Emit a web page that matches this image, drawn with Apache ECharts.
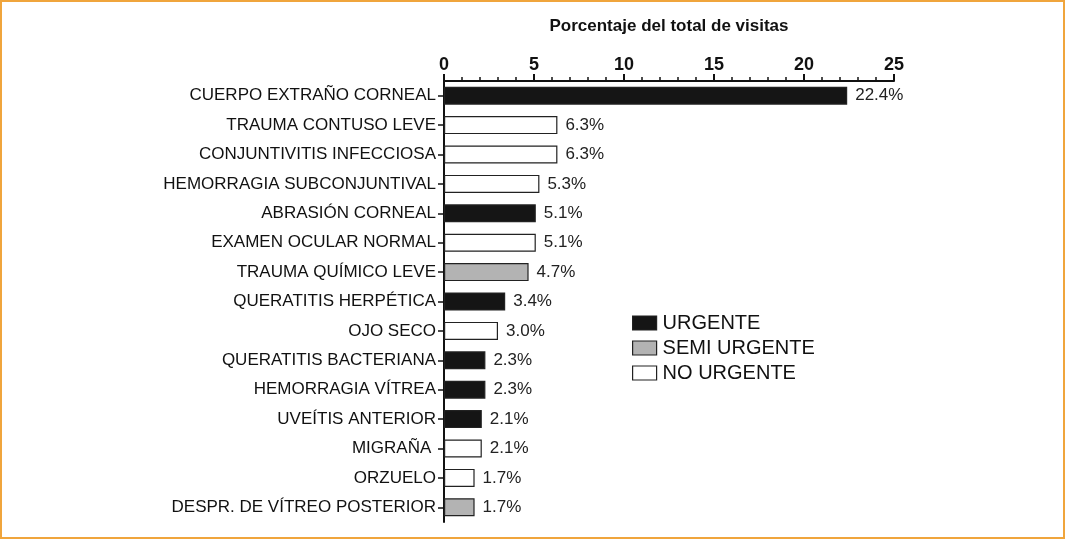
<!DOCTYPE html>
<html>
<head>
<meta charset="utf-8">
<script src="https://cdn.jsdelivr.net/npm/echarts@6/dist/echarts.min.js"></script>
<style>
html,body{margin:0;padding:0;background:#fff;}
#chart{position:absolute;left:0;top:0;width:1065px;height:539px;}
#frame{position:absolute;left:0;top:0;width:1065px;height:539px;box-sizing:border-box;border:2px solid #f0a53c;pointer-events:none;}
</style>
</head>
<body>
<div id="chart"></div>
<div id="frame"></div>
<script>
const categories = [
  'CUERPO EXTRAÑO CORNEAL','TRAUMA CONTUSO LEVE','CONJUNTIVITIS INFECCIOSA','HEMORRAGIA SUBCONJUNTIVAL',
  'ABRASIÓN CORNEAL','EXAMEN OCULAR NORMAL','TRAUMA QUÍMICO LEVE','QUERATITIS HERPÉTICA','OJO SECO',
  'QUERATITIS BACTERIANA','HEMORRAGIA VÍTREA','UVEÍTIS ANTERIOR','MIGRAÑA ','ORZUELO','DESPR. DE VÍTREO POSTERIOR'
];
const values = [22.4, 6.3, 6.3, 5.3, 5.1, 5.1, 4.7, 3.4, 3.0, 2.3, 2.3, 2.1, 2.1, 1.7, 1.7];
// U = urgente, S = semi urgente, N = no urgente
const urgency = ['U','N','N','N','U','N','S','U','N','U','U','U','N','N','S'];
const groups = [
  {key:'U', name:'URGENTE', color:'#151515'},
  {key:'S', name:'SEMI URGENTE', color:'#b3b3b3'},
  {key:'N', name:'NO URGENTE', color:'#ffffff'}
];
const xTicks = [0,5,10,15,20,25];
const title = 'Porcentaje del total de visitas';

const chart = echarts.init(document.getElementById('chart'));
const font = 'Liberation Sans, Arial, sans-serif';
const series = groups.map(g => ({
  name: g.name,
  type: 'bar',
  stack: 'all',
  barWidth: 18,
  data: values.map((v,i) => urgency[i] === g.key ? v : '-'),
  itemStyle: {color: g.color, borderColor: '#222', borderWidth: 1.2},
  label: {
    show: true, position: 'right', distance: 8,
    color: '#222', fontSize: 17, fontFamily: font,
    formatter: p => Number(p.value).toFixed(1) + '%'
  }
}));

chart.setOption({
  animation: false,
  grid: {left: 444, right: 171, top: 81, bottom: 17, containLabel: false},
  xAxis: {
    type: 'value', position: 'top', min: xTicks[0], max: xTicks[xTicks.length-1], interval: 5,
    name: title, nameLocation: 'middle', nameGap: 46,
    nameTextStyle: {fontSize: 17, fontWeight: 'bold', color: '#111', fontFamily: font},
    axisLine: {show: true, lineStyle: {color: '#111', width: 2}},
    axisTick: {show: true, length: 7, lineStyle: {color: '#111', width: 2}},
    minorTick: {show: true, splitNumber: 5, length: 4, lineStyle: {color: '#111', width: 1.5}},
    splitLine: {show: false},
    axisLabel: {fontSize: 18, fontWeight: 'bold', color: '#111', margin: 7, fontFamily: font}
  },
  yAxis: {
    type: 'category', data: categories, inverse: true,
    axisLine: {show: true, lineStyle: {color: '#111', width: 2}},
    axisTick: {show: true, alignWithLabel: true, length: 6, lineStyle: {color: '#111', width: 1.5}},
    axisLabel: {fontSize: 17, color: '#111', margin: 8, fontFamily: font}
  },
  legend: {
    orient: 'vertical', left: 627, top: 308, itemWidth: 24, itemHeight: 14, itemGap: 5,
    icon: 'rect',
    textStyle: {fontSize: 20, color: '#111', fontFamily: font, padding: [0,0,0,1]},
    data: groups.map(g => ({name: g.name, itemStyle: {color: g.color, borderColor: '#222', borderWidth: 1.2}}))
  },
  series: series
});
</script>
</body>
</html>
